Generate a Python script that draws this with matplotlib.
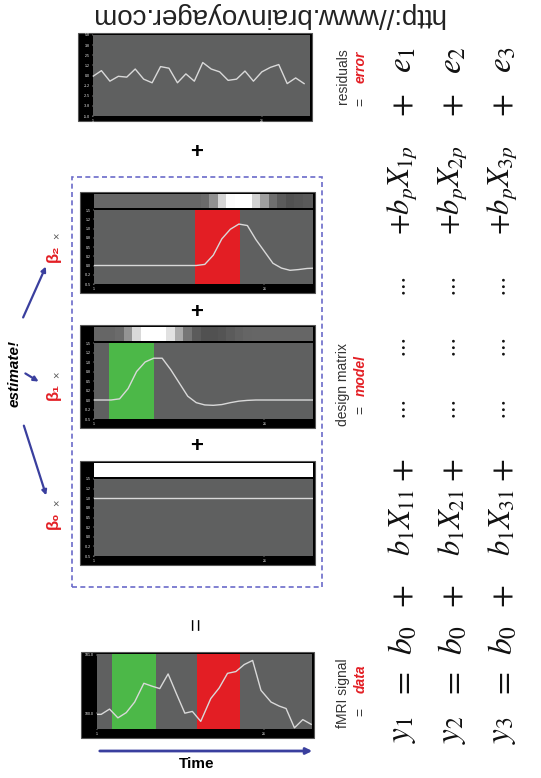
import matplotlib
matplotlib.use("Agg")
import matplotlib.pyplot as plt
import numpy as np
from matplotlib.patches import Rectangle, FancyArrowPatch

plt.rcParams['font.family'] = ['Liberation Sans', 'DejaVu Sans']
plt.rcParams['mathtext.fontset'] = 'stix'

W, H = 541, 778

# time axis (scan number) and the block periods
t_design = np.arange(1, 28)
t_resid = np.arange(1, 27)
t_fmri = [1.0, 1.5, 2.5, 3.5, 4.5, 5.5, 6.6, 7.6, 8.5, 9.5, 10.5, 11.5, 12.4, 13.4,
          14.6, 15.6, 16.6, 17.6, 18.6, 19.6, 20.6, 21.8, 22.8, 23.6, 24.6, 25.6, 26.6]
green_block = (2.8, 8.0)
red_block = (12.9, 18.1)

fmri_signal = [99.98, 99.98, 100.07, 99.92, 100.01, 100.19, 100.51, 100.46, 100.42, 100.67,
               100.33, 100.00, 100.03, 99.86, 100.25, 100.43, 100.68, 100.71, 100.83, 100.90,
               100.39, 100.19, 100.12, 100.08, 99.75, 99.89, 99.81]

beta0_reg = [1.0] * 27
beta1_reg = [0, 0, 0, 0.03, 0.3, 0.75, 1.0, 1.1, 1.1, 0.8, 0.45, 0.1, -0.07, -0.13, -0.14,
             -0.12, -0.07, -0.03, -0.01, 0, 0, 0, 0, 0, 0, 0, 0]
beta2_reg = [0, 0, 0, 0, 0, 0, 0, 0, 0, 0, 0, 0, 0, 0.03, 0.28, 0.72, 0.98, 1.12, 1.08,
             0.7, 0.38, 0.06, -0.07, -0.13, -0.11, -0.08, -0.07]

residuals = [-0.1, 0.6, -0.7, -0.1, -0.2, 0.8, -0.45, -0.9, 1.1, 0.9, -0.9, 0.2, -0.7,
             1.6, 0.8, 0.45, -0.6, -0.45, 0.55, -0.7, 0.45, 1.0, 1.35, -1.0, -0.3, -1.0]

design_ticks = np.linspace(-0.5, 1.5, 9)
design_ticklabels = ["-0.5", "-0.2", "0.0", "0.2", "0.5", "0.8", "1.0", "1.2", "1.5"]
resid_ticks = np.linspace(-5, 5, 9)
resid_ticklabels = ["-5.0", "-3.8", "-2.5", "-1.2", "0.0", "1.2", "2.5", "3.8", "5.0"]

GRAY = '#5f6060'
LINE = '#d9d9d9'
GREEN = '#4cb848'
RED = '#e31e24'
NAVY = '#3a3f9e'
XLIM = (1, 26.7)

fig = plt.figure(figsize=(W / 100, H / 100), dpi=100)


def fbox(x0, y0, x1, y1):
    return [x0 / W, 1 - y1 / H, (x1 - x0) / W, (y1 - y0) / H]


def px(x, y):
    return (x / W, 1 - y / H)


def panel(outer, inner, yticks, ylabels, ylim):
    fig.add_artist(Rectangle(px(outer[0], outer[3]), (outer[2] - outer[0]) / W,
                             (outer[3] - outer[1]) / H, transform=fig.transFigure,
                             facecolor='black', edgecolor='#555555', lw=0.8, zorder=-5))
    ax = fig.add_axes(fbox(*inner))
    ax.set_facecolor(GRAY)
    for s in ax.spines.values():
        s.set_visible(False)
    ax.set_xlim(*XLIM)
    ax.set_ylim(*ylim)
    ax.set_xticks([1, 21])
    ax.set_xticklabels(["1", "21"])
    ax.set_yticks(yticks)
    ax.set_yticklabels(ylabels)
    ax.tick_params(colors='white', labelsize=2.5, length=1, width=0.3, pad=1)
    return ax


def strip(box, reg):
    sa = fig.add_axes(fbox(*box))
    sa.imshow([reg], cmap='gray', vmin=-0.67, vmax=1.0, aspect='auto',
              interpolation='nearest', extent=[0.5, 27.5, 0, 1])
    sa.set_xlim(*XLIM)
    sa.axis('off')


# residuals panel
ax = panel((78, 33, 312, 121), (93, 35, 310, 116), resid_ticks, resid_ticklabels, (-5, 5))
ax.plot(t_resid, residuals, color=LINE, lw=1)

# design matrix panels
for outer, inner, sbox, reg, block in [
        ((80, 192, 315, 293), (94, 210, 313, 284), (94, 194, 313, 208), beta2_reg, (red_block, RED)),
        ((80, 325, 315, 428), (94, 343, 313, 419), (94, 327, 313, 341), beta1_reg, (green_block, GREEN)),
        ((80, 461, 315, 565), (94, 479, 313, 556), (94, 463, 313, 477), beta0_reg, None)]:
    ax = panel(outer, inner, design_ticks, design_ticklabels, (-0.5, 1.5))
    if block is not None:
        ax.axvspan(block[0][0], block[0][1], color=block[1], lw=0)
    ax.plot(t_design, reg, color=LINE, lw=1)
    strip(sbox, reg)

# fMRI data panel
ax = panel((81, 652, 314, 738), (97, 654, 312, 729), [100.0, 101.0], ["100.0", "101.0"], (99.73, 101.01))
ax.axvspan(*green_block, color=GREEN, lw=0)
ax.axvspan(*red_block, color=RED, lw=0)
ax.plot(t_fmri, fmri_signal, color=LINE, lw=1)

# dashed box around the design matrix
fig.add_artist(Rectangle(px(72, 587), (322 - 72) / W, (587 - 177) / H, transform=fig.transFigure,
                         fill=False, edgecolor='#6b6bc9', lw=1.2, linestyle=(0, (3, 2))))

# operators between panels
for y in [152, 312, 447]:
    fig.text(*px(197, y), "+", fontsize=16, fontweight='bold', ha='center', va='center')
fig.text(*px(197, 623), "=", fontsize=16, rotation=90, ha='center', va='center')

# time arrow
fig.add_artist(FancyArrowPatch(px(97, 751), px(315, 751), transform=fig.transFigure,
                               arrowstyle='-|>', mutation_scale=9, color=NAVY, lw=2))
fig.text(*px(197, 764), "Time", fontsize=11, fontweight='bold', ha='center', va='center')

# estimate arrows and betas
fig.text(*px(15, 373), "estimate!", fontsize=11, fontweight='bold', style='italic',
         rotation=90, ha='center', va='center')
for a, b in [((22, 320), (47, 264)), ((23, 372), (41, 383)), ((23, 423), (47, 498))]:
    fig.add_artist(FancyArrowPatch(px(*a), px(*b), transform=fig.transFigure,
                                   arrowstyle='-|>', mutation_scale=7, color=NAVY, lw=1.6))
for lab, y in [("β₂", 253), ("β₁", 392), ("β₀", 520)]:
    fig.text(*px(53, y), lab, fontsize=12, fontweight='bold', color=RED, rotation=90,
             ha='center', va='center')
    fig.text(*px(56, y - 17), "×", fontsize=8, color='#555555', rotation=90,
             ha='center', va='center')

# side labels
for name, word, xy_name, eq_y, word_y in [("residuals", "error", (343, 76), 102, 67),
                                           ("design matrix", "model", (343, 385), 410, 376),
                                           ("fMRI signal", "data", (343, 693), 712, 679)]:
    fig.text(*px(*xy_name), name, fontsize=10, color='#333333', rotation=90, ha='center', va='center')
    fig.text(*px(361, eq_y), "=", fontsize=10, color='#333333', rotation=90, ha='center', va='center')
    fig.text(*px(361, word_y), word, fontsize=10, color=RED, fontweight='bold', style='italic',
             rotation=90, ha='center', va='center')

# GLM equations, one column per scan
for r, x in zip([1, 2, 3], [403, 453, 503]):
    pieces = [("$y_%d$" % r, 730, 24), ("$=$", 685, 24), ("$b_0$", 640, 24), ("$+$", 596, 24),
              ("$b_1X_{%d1}$" % r, 522, 22), ("$+$", 470, 24), (r"$\cdots$", 410, 16),
              (r"$\cdots$", 348, 16), (r"$\cdots$", 287, 16), ("$+b_pX_{%dp}$" % r, 190, 22),
              ("$+$", 105, 24), ("$e_%d$" % r, 60, 24)]
    for s, y, fs in pieces:
        fig.text(*px(x, y), s, fontsize=fs, rotation=90, ha='center', va='center', color='#111111')

fig.text(*px(267, 15), "http://www.brainvoyager.com", fontsize=20, color='#222222',
         rotation=180, ha='center', va='center')

fig.savefig("out.png", dpi=100)
